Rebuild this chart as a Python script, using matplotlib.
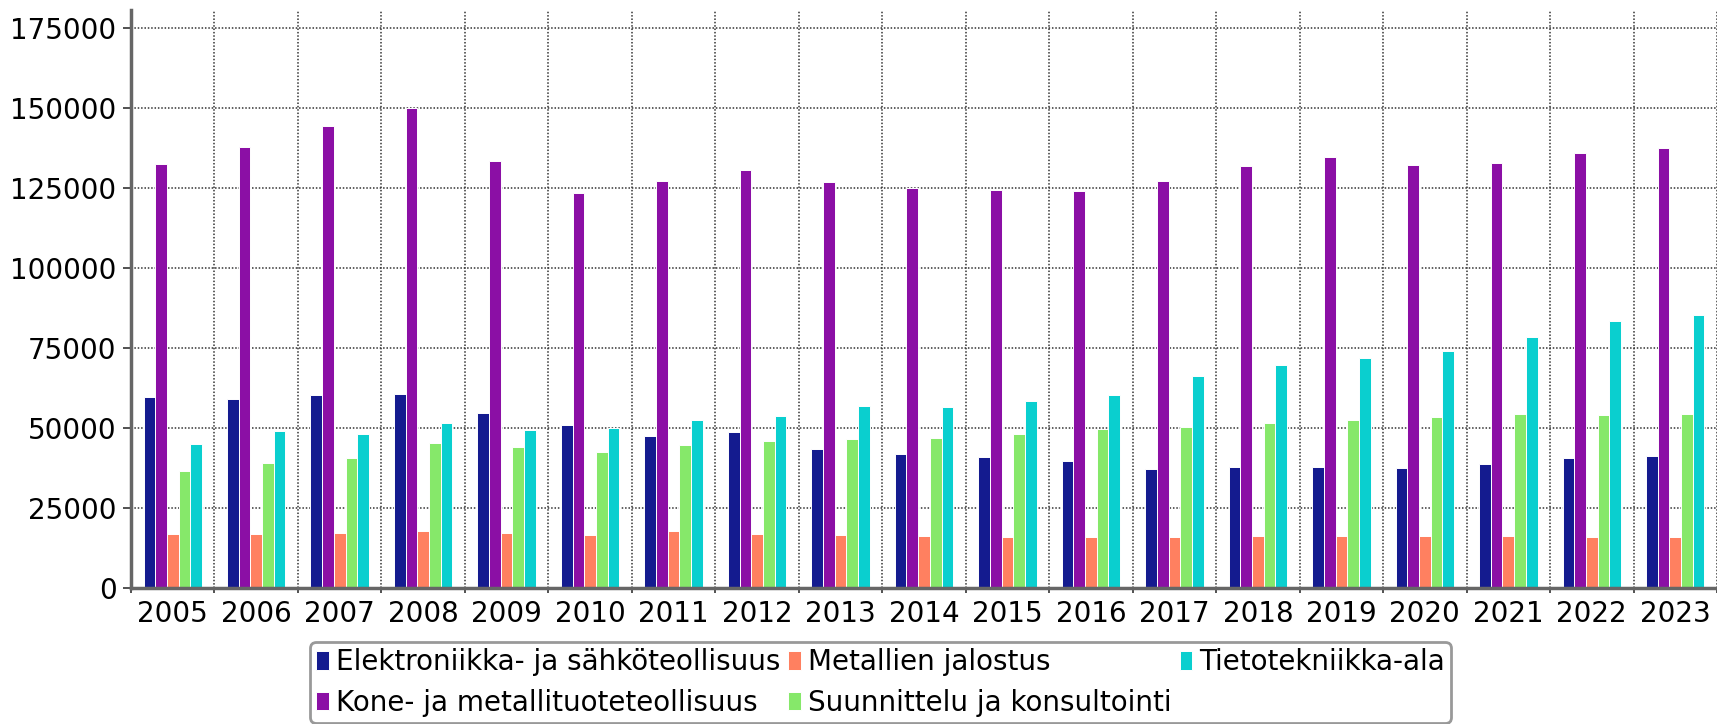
import numpy as np
import matplotlib
matplotlib.use("Agg")
import matplotlib.pyplot as plt
from matplotlib.ticker import FixedLocator, NullFormatter, FixedFormatter

OUT_FILE = "out.png"
DPI = 100
FIGSIZE = (17.17, 7.24)
FONT_SIZE = 20

years = [str(y) for y in range(2005, 2024)]

elektroniikka = [59800, 59100, 60300, 60700, 54700, 51000, 47400, 48800, 43400, 41900,
                 40900, 39700, 37100, 37700, 37900, 37500, 38800, 40500, 41300]
kone = [132600, 137800, 144400, 150000, 133300, 123500, 127300, 130700, 127000, 125000,
        124400, 124200, 127300, 131900, 134700, 132200, 132900, 135800, 137500]
metallien = [16900, 17000, 17200, 17900, 17100, 16700, 17900, 17000, 16500, 16300,
             15900, 16000, 15900, 16200, 16400, 16200, 16200, 15800, 15800]
suunnittelu = [36600, 39100, 40700, 45300, 44200, 42500, 44800, 45900, 46400, 46800,
               48100, 49600, 50200, 51700, 52500, 53400, 54400, 54000, 54500]
tietotekniikka = [45100, 48900, 48000, 51600, 49400, 50000, 52400, 53800, 56900, 56600,
                  58300, 60400, 66200, 69600, 71900, 74200, 78300, 83400, 85400]

series = [
    ("Elektroniikka- ja sähköteollisuus", elektroniikka, "#141b8f"),
    ("Kone- ja metallituoteteollisuus", kone, "#8b0fa5"),
    ("Metallien jalostus", metallien, "#ff8060"),
    ("Suunnittelu ja konsultointi", suunnittelu, "#86e86a"),
    ("Tietotekniikka-ala", tietotekniikka, "#0acfcf"),
]

yticks = [0, 25000, 50000, 75000, 100000, 125000, 150000, 175000]


def main():
    plt.rcParams["font.family"] = ["DejaVu Sans"]
    fig = plt.figure(figsize=FIGSIZE, dpi=DPI)
    ax = fig.add_axes([131 / 1717, 1 - 588 / 724, 1 - 131 / 1717, (588 - 10) / 724])

    x = np.arange(len(years))
    bar_w = 0.14
    for i, (name, vals, color) in enumerate(series):
        ax.bar(x + (i - 2) * bar_w, vals, width=bar_w, color=color,
               edgecolor="white", linewidth=0.7, label=name, zorder=3)

    ax.set_xlim(-0.5, len(years) - 0.5)
    ax.set_ylim(0, 180600)

    # group boundaries get the grid + small ticks, centres get the labels
    ax.xaxis.set_major_locator(FixedLocator(np.arange(len(years) + 1) - 0.5))
    ax.xaxis.set_major_formatter(NullFormatter())
    ax.xaxis.set_minor_locator(FixedLocator(x))
    ax.xaxis.set_minor_formatter(FixedFormatter(years))
    ax.tick_params(axis="x", which="major", length=3.5, width=1.2, color="#333333")
    ax.tick_params(axis="x", which="minor", length=0, pad=9, labelsize=FONT_SIZE)

    ax.set_yticks(yticks)
    ax.set_yticklabels([str(v) for v in yticks])
    ax.tick_params(axis="y", length=5.5, width=1.2, color="#333333", pad=5, labelsize=FONT_SIZE)

    ax.grid(True, which="major", linestyle=(0, (1, 1.2)), linewidth=1.1, color="#333333", zorder=0)
    ax.set_axisbelow(True)

    for side in ("top", "right"):
        ax.spines[side].set_visible(False)
    for side in ("left", "bottom"):
        ax.spines[side].set_color("#666666")
        ax.spines[side].set_linewidth(2.5)
        ax.spines[side].set_zorder(4)

    leg = fig.legend(loc="upper left", bbox_to_anchor=(310 / 1717, 1 - 642 / 724),
                     ncol=3, fontsize=FONT_SIZE, frameon=True, fancybox=True,
                     handlelength=0.45, handleheight=0.65, handletextpad=0.25,
                     columnspacing=0.3, borderpad=0.22, labelspacing=0.45,
                     borderaxespad=0)
    frame = leg.get_frame()
    frame.set_edgecolor("#999999")
    frame.set_linewidth(2)
    frame.set_alpha(1)

    fig.savefig(OUT_FILE, dpi=DPI)
    plt.close(fig)


if __name__ == "__main__":
    main()
